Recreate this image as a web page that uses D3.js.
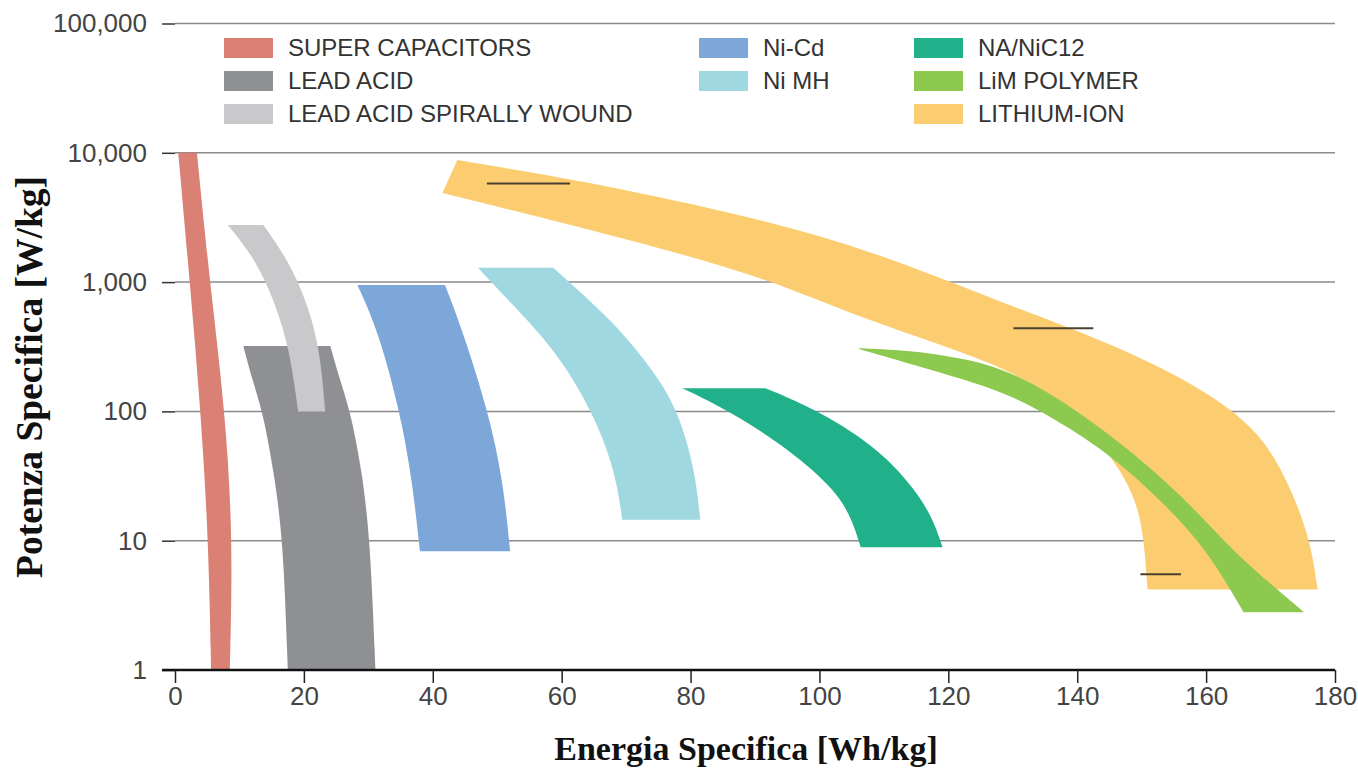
<!DOCTYPE html>
<html>
<head>
<meta charset="utf-8">
<title>Ragone</title>
<style>
  body { margin: 0; background: #fff; }
  svg { display: block; }
  .tick text { font-family: "Liberation Sans", Arial, sans-serif; fill: #444; }
  .legend text { font-family: "Liberation Sans", Arial, sans-serif; fill: #333; font-size: 24px; }
  .title { font-family: "Liberation Serif", "Times New Roman", serif; font-weight: bold; fill: #111; }
</style>
<script src="https://d3js.org/d3.v7.min.js"></script>
</head>
<body>
<svg id="chart" width="1358" height="769"></svg>
<script>
// tick values
var xTicks = [0, 20, 40, 60, 80, 100, 120, 140, 160, 180];
var yTicks = [1, 10, 100, 1000, 10000, 100000];

// legend
var names = ["SUPER CAPACITORS", "LEAD ACID", "LEAD ACID SPIRALLY WOUND",
             "Ni-Cd", "Ni MH", "NA/NiC12", "LiM POLYMER", "LITHIUM-ION"];
var colors = ["#da8075", "#8f9094", "#c9c9cb", "#7ea7d9", "#a0d8e1", "#20b08a", "#8dc94f", "#fccd70"];

// band edges, [Wh/kg, W/kg]
var superCapLeft  = [[0.5,10000],[2.3,1000],[4.0,100],[5.2,10],[5.6,1]];
var superCapRight = [[3.4,10000],[5.4,1000],[7.8,100],[9.0,10],[8.5,1]];

var leadLeft  = [[10.6,320],[12.0,175],[13.6,100],[15.3,35],[16.8,10],[17.5,1]];
var leadRight = [[24.1,320],[25.6,175],[27.2,100],[29.0,35],[30.3,10],[31.1,1]];

var spiralLeft  = [[8.2,2760],[12.5,1500],[15.5,700],[17.8,300],[19.1,100]];
var spiralRight = [[13.7,2760],[17.5,1500],[20.5,700],[22.5,300],[23.3,100]];

var nicdLeft  = [[28.3,950],[31.5,425],[34.9,100],[36.8,29.5],[38.0,8.3]];
var nicdRight = [[41.9,950],[44.6,425],[48.6,100],[50.9,29.5],[52.0,8.3]];

var nimhLeft  = [[47.0,1290],[52.0,700],[59.0,300],[64.8,100],[68.3,35],[69.4,14.5]];
var nimhRight = [[58.7,1290],[68.0,500],[74.5,200],[78.1,100],[80.7,35],[81.5,14.5]];

var naLeft  = [[78.7,151],[86.2,100],[95.5,50],[102.5,24.7],[105.1,14.5],[106.4,8.9]];
var naRight = [[91.6,151],[100.2,100],[109.5,50],[114.9,24.7],[117.7,14.5],[119.1,8.9]];

var limLeft  = [[106.5,300],[117.2,210],[128.1,145],[135.0,97],[144.7,48.5],[153.0,20.6],[160.2,8.5],[165.8,2.8]];
var limRight = [[106.0,309],[113.4,298],[121.9,262],[131.0,200],[145.2,68],[157.1,20.6],[164.3,8.0],[175.2,2.8]];

var liionLeft  = [[41.5,4890],[66.0,2440],[90.8,1135],[106.1,527],[128.1,233],[137.4,122],[144.7,50],[148.8,23.4],[150.3,11.5],[150.9,4.2]];
var liionRight = [[43.8,8790],[69.1,5400],[97.0,2600],[112.6,1430],[128.1,700],[145.2,338],[159.2,154],[168.5,70],[173.1,26],[176.2,10.1],[177.3,4.2]];

// small dark marks on the lithium band
var markE0 = [48.4, 130.1, 149.8];
var markE1 = [61.3, 142.5, 156.1];
var markP  = [5800, 440, 5.5];

var svg = d3.select("#chart");
var x = d3.scaleLinear().domain([0, 180]).range([175, 1335]);
var y = d3.scaleLog().domain([1, 100000]).range([670, 23.5]);

// grid lines + y labels
var yAxis = svg.append("g").attr("transform", "translate(175,0)")
  .call(d3.axisLeft(y).tickValues(yTicks).tickSize(13).tickPadding(15)
    .tickFormat(d3.format(",")));
yAxis.select(".domain").remove();
yAxis.selectAll(".tick line").attr("stroke", "#333").attr("stroke-width", 1.5);
yAxis.selectAll(".tick text").style("font-size", "26px");

svg.append("g").selectAll("line")
  .data(yTicks.slice(1))
  .join("line")
  .attr("x1", 175).attr("x2", 1335)
  .attr("y1", d => y(d)).attr("y2", d => y(d))
  .attr("stroke", "#8a8a8a").attr("stroke-width", 1.5);

// bands
var edge = d3.line().x(d => x(d[0])).y(d => y(d[1])).curve(d3.curveBasis);
function band(l, r) {
  return edge(l) + edge(r.slice().reverse()).replace(/^M/, "L") + "Z";
}
var bands = [
  [superCapLeft, superCapRight, 0],
  [leadLeft, leadRight, 1],
  [spiralLeft, spiralRight, 2],
  [nicdLeft, nicdRight, 3],
  [nimhLeft, nimhRight, 4],
  [naLeft, naRight, 5],
  [liionLeft, liionRight, 7],
  [limLeft, limRight, 6]
];
svg.append("g").selectAll("path")
  .data(bands)
  .join("path")
  .attr("d", d => band(d[0], d[1]))
  .attr("fill", d => colors[d[2]]);

svg.append("g").selectAll("line")
  .data(markP)
  .join("line")
  .attr("x1", (d, i) => x(markE0[i])).attr("x2", (d, i) => x(markE1[i]))
  .attr("y1", d => y(d)).attr("y2", d => y(d))
  .attr("stroke", "#4d4030").attr("stroke-width", 2);

// x axis
var xAxis = svg.append("g").attr("transform", "translate(0,670)")
  .call(d3.axisBottom(x).tickValues(xTicks).tickSize(13).tickPadding(4).tickSizeOuter(0));
xAxis.select(".domain").attr("stroke", "#111").attr("stroke-width", 2.5)
  .attr("d", "M162,0H1335");
xAxis.selectAll(".tick line").attr("stroke", "#222").attr("stroke-width", 1.5);
xAxis.selectAll(".tick text").style("font-size", "26px");

// legend
var legCols = [0, 0, 0, 1, 1, 2, 2, 2];
var legRows = [0, 1, 2, 0, 1, 0, 1, 2];
var colX = [224, 699, 914];
var leg = svg.append("g").attr("class", "legend").selectAll("g")
  .data(names)
  .join("g")
  .attr("transform", (d, i) => "translate(" + colX[legCols[i]] + "," + (38 + legRows[i] * 33) + ")");
leg.append("rect").attr("width", 49).attr("height", 20).attr("fill", (d, i) => colors[i]);
leg.append("text").attr("x", 64).attr("y", 18).text(d => d);

// titles
svg.append("text").attr("class", "title")
  .attr("x", 746).attr("y", 760).attr("text-anchor", "middle")
  .style("font-size", "34px").text("Energia Specifica [Wh/kg]");
svg.append("text").attr("class", "title")
  .attr("transform", "translate(42,377) rotate(-90)").attr("text-anchor", "middle")
  .style("font-size", "37.5px").text("Potenza Specifica [W/kg]");
</script>
</body>
</html>
